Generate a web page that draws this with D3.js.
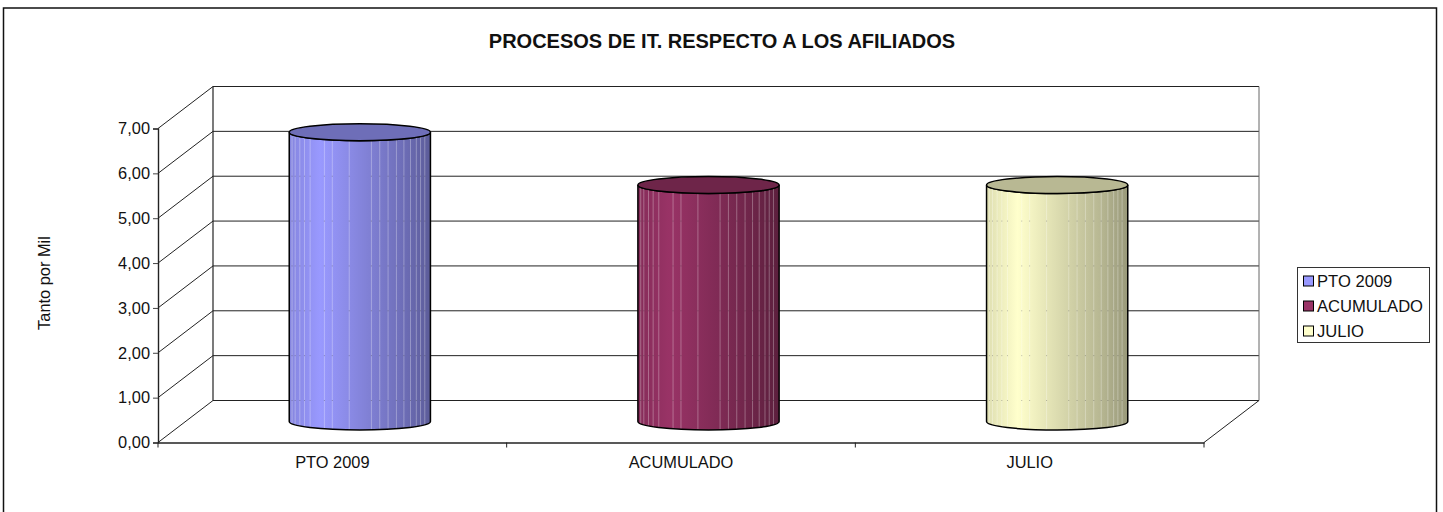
<!DOCTYPE html>
<html>
<head>
<meta charset="utf-8">
<script src="https://cdn.jsdelivr.net/npm/d3@7"></script>
<style>
  html, body { margin: 0; padding: 0; background: #fff; overflow: hidden; }
  text { font-family: "Liberation Sans", Arial, sans-serif; fill: #111; }
</style>
</head>
<body>
<div id="chart"></div>
<script>
const titleText = "PROCESOS DE IT. RESPECTO A LOS AFILIADOS";
const yTitle = "Tanto por Mil";
const categories = ["PTO 2009", "ACUMULADO", "JULIO"];
const values = [6.45, 5.27, 5.27];
const colors = ["#9999FF", "#993366", "#FFFFCC"];
const yTicks = [0, 1, 2, 3, 4, 5, 6, 7];

const WIDTH = 1443;
const HEIGHT = 512;
const PLOT = { left: 158, right: 1204, top: 128.5, bottom: 442.5 };
const DEPTH = { x: 55, y: -42 };
const RY = 8.5;
const FONT_SIZE = 16.4;
// pale facet seams of the cylinder, as a share of its width
const SEAMS = [0.02, 0.042, 0.075, 0.108, 0.148, 0.249, 0.305, 0.425, 0.582, 0.641, 0.7, 0.759, 0.812, 0.859, 0.9, 0.93, 0.96];

const svg = d3
  .select("#chart")
  .append("svg")
  .attr("width", WIDTH)
  .attr("height", HEIGHT);

const x = d3.scaleBand().domain(categories).range([PLOT.left, PLOT.right]);
const y = d3.scaleLinear().domain([0, 7]).range([PLOT.bottom, PLOT.top]);
const barWidth = x.bandwidth() * 0.405;

// outer frame, runs off the bottom of the picture
svg
  .append("rect")
  .attr("x", 3.5)
  .attr("y", 8)
  .attr("width", 1433)
  .attr("height", 520)
  .attr("fill", "#fff")
  .attr("stroke", "#111")
  .attr("stroke-width", 1.5);

svg
  .append("text")
  .attr("x", 722)
  .attr("y", 48)
  .attr("text-anchor", "middle")
  .attr("font-weight", "bold")
  .attr("font-size", 20)
  .text(titleText);

svg
  .append("text")
  .attr("transform", "translate(50,283) rotate(-90)")
  .attr("text-anchor", "middle")
  .attr("font-size", FONT_SIZE)
  .text(yTitle);

// walls and floor
const walls = svg.append("g").attr("fill", "none").attr("stroke", "#222");

walls
  .selectAll("line.grid")
  .data(yTicks)
  .enter()
  .append("line")
  .attr("class", "grid")
  .attr("x1", PLOT.left + DEPTH.x)
  .attr("x2", PLOT.right + DEPTH.x)
  .attr("y1", (d) => y(d) + DEPTH.y)
  .attr("y2", (d) => y(d) + DEPTH.y);

walls
  .selectAll("line.side")
  .data(yTicks)
  .enter()
  .append("line")
  .attr("class", "side")
  .attr("x1", PLOT.left)
  .attr("x2", PLOT.left + DEPTH.x)
  .attr("y1", (d) => y(d))
  .attr("y2", (d) => y(d) + DEPTH.y);

walls
  .append("line")
  .attr("stroke-width", 1.2)
  .attr("x1", PLOT.left + DEPTH.x)
  .attr("x2", PLOT.left + DEPTH.x)
  .attr("y1", y(0) + DEPTH.y)
  .attr("y2", y(7) + DEPTH.y);

walls
  .append("line")
  .attr("stroke", "#666")
  .attr("x1", PLOT.right + DEPTH.x)
  .attr("x2", PLOT.right + DEPTH.x)
  .attr("y1", y(0) + DEPTH.y)
  .attr("y2", y(7) + DEPTH.y);

walls
  .append("line")
  .attr("x1", PLOT.right)
  .attr("x2", PLOT.right + DEPTH.x)
  .attr("y1", y(0))
  .attr("y2", y(0) + DEPTH.y);

// axes
const yAxis = svg
  .append("g")
  .attr("transform", `translate(${PLOT.left},0)`)
  .call(
    d3
      .axisLeft(y)
      .tickValues(yTicks)
      .tickSize(5)
      .tickPadding(3)
      .tickFormat((d) => d3.format(".2f")(d).replace(".", ","))
  );

const xAxis = svg
  .append("g")
  .attr("transform", `translate(0,${PLOT.bottom})`)
  .call(d3.axisBottom(x).tickSize(0).tickPadding(14));

xAxis
  .selectAll("line.edge")
  .data(d3.range(categories.length + 1))
  .enter()
  .append("line")
  .attr("class", "edge")
  .attr("stroke", "#222")
  .attr("x1", (i) => PLOT.left + i * x.step())
  .attr("x2", (i) => PLOT.left + i * x.step())
  .attr("y1", 0)
  .attr("y2", 5);

[yAxis, xAxis].forEach((axis) => {
  axis.attr("font-family", null).attr("font-size", FONT_SIZE);
  axis.selectAll("path").attr("stroke", "#222").attr("stroke-width", 1.4);
  axis.selectAll(".tick line").attr("stroke", "#444");
  axis.selectAll("text").attr("fill", "#111");
});

// cylinders
const defs = svg.append("defs");
categories.forEach((name, i) => {
  const base = d3.color(colors[i]);
  const grad = defs
    .append("linearGradient")
    .attr("id", `grad${i}`)
    .attr("x1", 0)
    .attr("x2", 1)
    .attr("y1", 0)
    .attr("y2", 0);
  [
    [0, 0.87],
    [0.22, 1],
    [0.55, 0.84],
    [0.8, 0.72],
    [1, 0.6],
  ].forEach(([offset, k]) => {
    grad
      .append("stop")
      .attr("offset", offset)
      .attr("stop-color", d3.rgb(base.r * k, base.g * k, base.b * k).formatHex());
  });
});

const bars = svg
  .selectAll("g.bar")
  .data(categories)
  .enter()
  .append("g")
  .attr("class", "bar");

bars.each(function (name, i) {
  const g = d3.select(this);
  const cx = x(name) + x.bandwidth() / 2 + DEPTH.x / 2;
  const left = cx - barWidth / 2;
  const right = cx + barWidth / 2;
  const rx = barWidth / 2;
  const yBase = y(0) + DEPTH.y / 2;
  const yTop = y(values[i]) + DEPTH.y / 2;
  const base = d3.color(colors[i]);

  const body = `M${left},${yTop}L${left},${yBase}A${rx},${RY} 0 0 0 ${right},${yBase}L${right},${yTop}A${rx},${RY} 0 0 1 ${left},${yTop}Z`;

  g.append("path").attr("d", body).attr("fill", `url(#grad${i})`);

  defs.append("clipPath").attr("id", `clip${i}`).append("path").attr("d", body);

  const seams = g.append("g").attr("clip-path", `url(#clip${i})`);
  seams
    .selectAll("line")
    .data(SEAMS)
    .enter()
    .append("line")
    .attr("x1", (s) => left + s * barWidth)
    .attr("x2", (s) => left + s * barWidth)
    .attr("y1", yTop)
    .attr("y2", yBase + RY)
    .attr("stroke", "#fff")
    .attr("stroke-opacity", 0.3);

  // gridlines just show through at the seams
  yTicks
    .filter((t) => y(t) + DEPTH.y > yTop + RY)
    .forEach((t) => {
      seams
        .selectAll(null)
        .data(SEAMS)
        .enter()
        .append("rect")
        .attr("x", (s) => left + s * barWidth - 0.5)
        .attr("y", y(t) + DEPTH.y - 0.5)
        .attr("width", 1)
        .attr("height", 1)
        .attr("fill", "#000")
        .attr("fill-opacity", 0.25);
    });

  g.append("path")
    .attr("d", body)
    .attr("fill", "none")
    .attr("stroke", "#000")
    .attr("stroke-width", 1.5);

  g.append("ellipse")
    .attr("cx", cx)
    .attr("cy", yTop)
    .attr("rx", rx)
    .attr("ry", RY)
    .attr("fill", d3.rgb(base.r * 0.72, base.g * 0.72, base.b * 0.72).formatHex())
    .attr("stroke", "#000")
    .attr("stroke-width", 1.5);
});

// legend
const legend = svg.append("g");
legend
  .append("rect")
  .attr("x", 1297.5)
  .attr("y", 267.5)
  .attr("width", 132)
  .attr("height", 75)
  .attr("fill", "#fff")
  .attr("stroke", "#333");

const items = legend
  .selectAll("g")
  .data(categories)
  .enter()
  .append("g")
  .attr("transform", (d, i) => `translate(1303,${281 + i * 25})`);

items
  .append("rect")
  .attr("x", 0.5)
  .attr("y", -5)
  .attr("width", 10)
  .attr("height", 10)
  .attr("fill", (d, i) => colors[i])
  .attr("stroke", "#000");

items
  .append("text")
  .attr("x", 14)
  .attr("dy", "0.36em")
  .attr("font-size", 16.6)
  .text((d) => d);
</script>
</body>
</html>
